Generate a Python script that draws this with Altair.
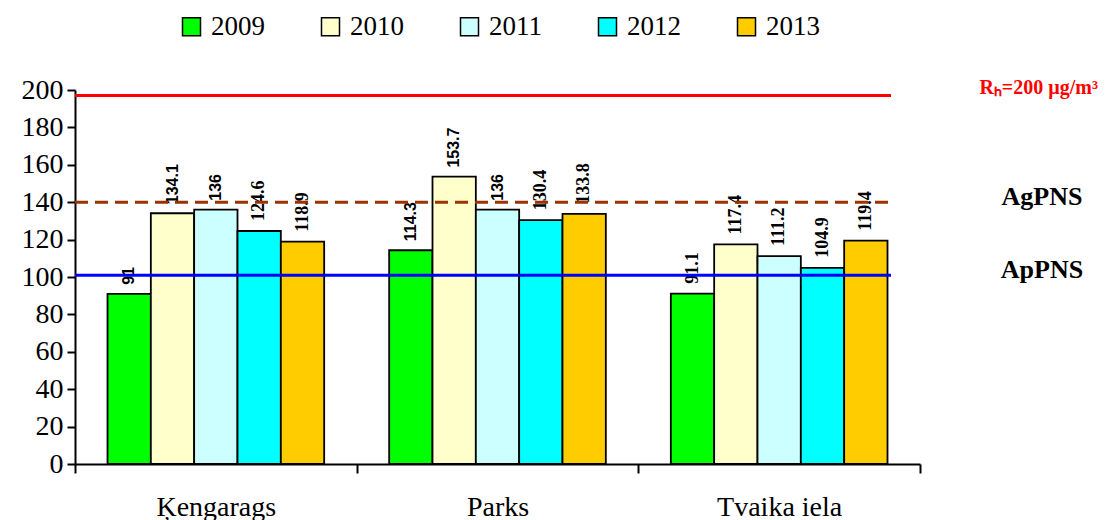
import altair as alt
import pandas as pd

# ---- data ----
sites = ["Ķengarags", "Parks", "Tvaika iela"]
years = ["2009", "2010", "2011", "2012", "2013"]
kengarags = [91, 134.1, 136, 124.6, 118.9]
parks = [114.3, 153.7, 136, 130.4, 133.8]
tvaika = [91.1, 117.4, 111.2, 104.9, 119.4]
year_colors = ["#00FF00", "#FFFFCC", "#CCFFFF", "#00FFFF", "#FFCC00"]

limit_keys = ["rh", "ag", "ap"]
limit_values = [197, 140, 101]
limit_labels = ["Rₕ=200 µg/m³", "AgPNS", "ApPNS"]

rows = []
for site, vals in zip(sites, [kengarags, parks, tvaika]):
    for yr, v in zip(years, vals):
        rows.append({"site": site, "year": yr, "value": v, "label": f"{v:g}"})
df = pd.DataFrame(rows)
limits = pd.DataFrame({"key": limit_keys, "value": limit_values, "label": limit_labels})

W, H = 845, 374
LINE_END = 816

yscale = alt.Scale(domain=[0, 200], nice=False)
y_axis = alt.Axis(
    title=None, values=list(range(0, 201, 20)), grid=False, labelOverlap=False,
    labelFont="Liberation Serif", labelFontSize=28, labelColor="black",
    labelPadding=4, tickSize=8, tickWidth=2, tickColor="black",
    domainColor="black", domainWidth=2,
)
x_axis = alt.Axis(
    title=None, labelAngle=0, tickBand="extent",
    labelFont="Liberation Serif", labelFontSize=28, labelColor="black",
    labelPadding=20, tickSize=9, tickWidth=2, tickColor="black",
    domainColor="black", domainWidth=2, grid=False,
)
xscale = alt.Scale(paddingInner=0, paddingOuter=0)


def X():
    return alt.X("site:N", sort=sites, scale=xscale, axis=x_axis)


def XO():
    return alt.XOffset("year:N", sort=years, scale=alt.Scale(paddingInner=0, paddingOuter=0.75))


def Y():
    return alt.Y("value:Q", scale=yscale, axis=y_axis)


bars = alt.Chart(df).mark_bar(stroke="black", strokeWidth=1.8).encode(
    x=X(), xOffset=XO(), y=Y(),
    color=alt.Color(
        "year:N", sort=years,
        scale=alt.Scale(domain=years, range=year_colors),
        legend=alt.Legend(
            title=None, orient="none", legendX=103, legendY=-77,
            direction="horizontal", symbolType="square", symbolSize=324,
            symbolStrokeColor="black", symbolStrokeWidth=1.5, symbolOpacity=1,
            labelFont="Liberation Serif", labelFontSize=27, labelColor="black",
            labelOffset=6, columnPadding=52, padding=0,
        ),
    ),
)

serif_cond = "datum.site == 'Tvaika iela' || datum.year >= '2012'"

labels_sans = alt.Chart(df).transform_filter("!(" + serif_cond + ")").mark_text(
    angle=270, align="left", baseline="middle", dx=9,
    font="Liberation Sans", fontWeight="bold", fontSize=16, color="black",
).encode(x=X(), xOffset=XO(), y=Y(), text="label:N")

labels_serif = alt.Chart(df).transform_filter(serif_cond).mark_text(
    angle=270, align="left", baseline="middle", dx=10,
    font="Liberation Serif", fontWeight="bold", fontSize=18, color="black",
).encode(x=X(), xOffset=XO(), y=Y(), text="label:N")


def rule(key, color, dash=None):
    kw = dict(color=color, strokeWidth=3)
    if dash:
        kw["strokeDash"] = dash
    return alt.Chart(limits).transform_filter(f"datum.key == '{key}'").mark_rule(**kw).encode(
        y=Y(), x=alt.value(0), x2=alt.value(LINE_END),
    )


red_line = rule("rh", "#FF0000")
brown_line = rule("ag", "#993300", [13, 7])
blue_line = rule("ap", "#0000FF")

red_text = alt.Chart(limits).transform_filter("datum.key == 'rh'").mark_text(
    font="Liberation Serif", fontWeight="bold", fontSize=20, color="#FF0000",
    align="right", baseline="middle", dy=-8,
).encode(x=alt.value(1023), y=Y(), text="label:N")

black_text = alt.Chart(limits).transform_filter("datum.key != 'rh'").mark_text(
    font="Liberation Serif", fontWeight="bold", fontSize=26, color="black",
    align="center", baseline="middle", dy=-5,
).encode(x=alt.value(967), y=Y(), text="label:N")

chart = alt.layer(
    bars, labels_sans, labels_serif, red_line, brown_line, blue_line, red_text, black_text
).properties(
    width=W, height=H,
    autosize=alt.AutoSizeParams(type="none"),
    padding={"left": 67, "top": 82, "right": 179, "bottom": 56},
    background="white",
).configure_view(stroke=None)

chart.save("out.html", embed_options={"renderer": "svg", "actions": False})
